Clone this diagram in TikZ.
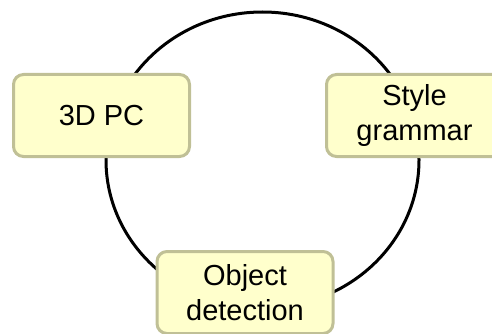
\documentclass[tikz,border=0pt]{standalone}
\usepackage{fontspec}
\setmainfont{Liberation Sans}
\usepackage{tikz}

\definecolor{boxfill}{RGB}{255,255,204}
\definecolor{boxedge}{RGB}{192,192,150}

\begin{document}
\begin{tikzpicture}[x=1pt,y=-1pt,
	stage/.style={draw=boxedge, fill=boxfill, line width=3pt, rounded corners=10pt,
		minimum width=176pt, minimum height=82pt, inner sep=0pt, align=center,
		font=\fontsize{29}{34.5}\selectfont}]

	\useasboundingbox (0,0) rectangle (492,334);

	\coordinate (o) at (262.5,160);
	\draw[line width=3pt] (o) ellipse [x radius=156.5pt, y radius=148pt];

	\node[stage] (pc) at (101.5,115.5) {3D PC};
	\node[stage] (grammar) at (414.5,115.5) {Style\\grammar};
	\node[stage] (detect) at (245,292.5) {Object\\detection};

\end{tikzpicture}
\end{document}
